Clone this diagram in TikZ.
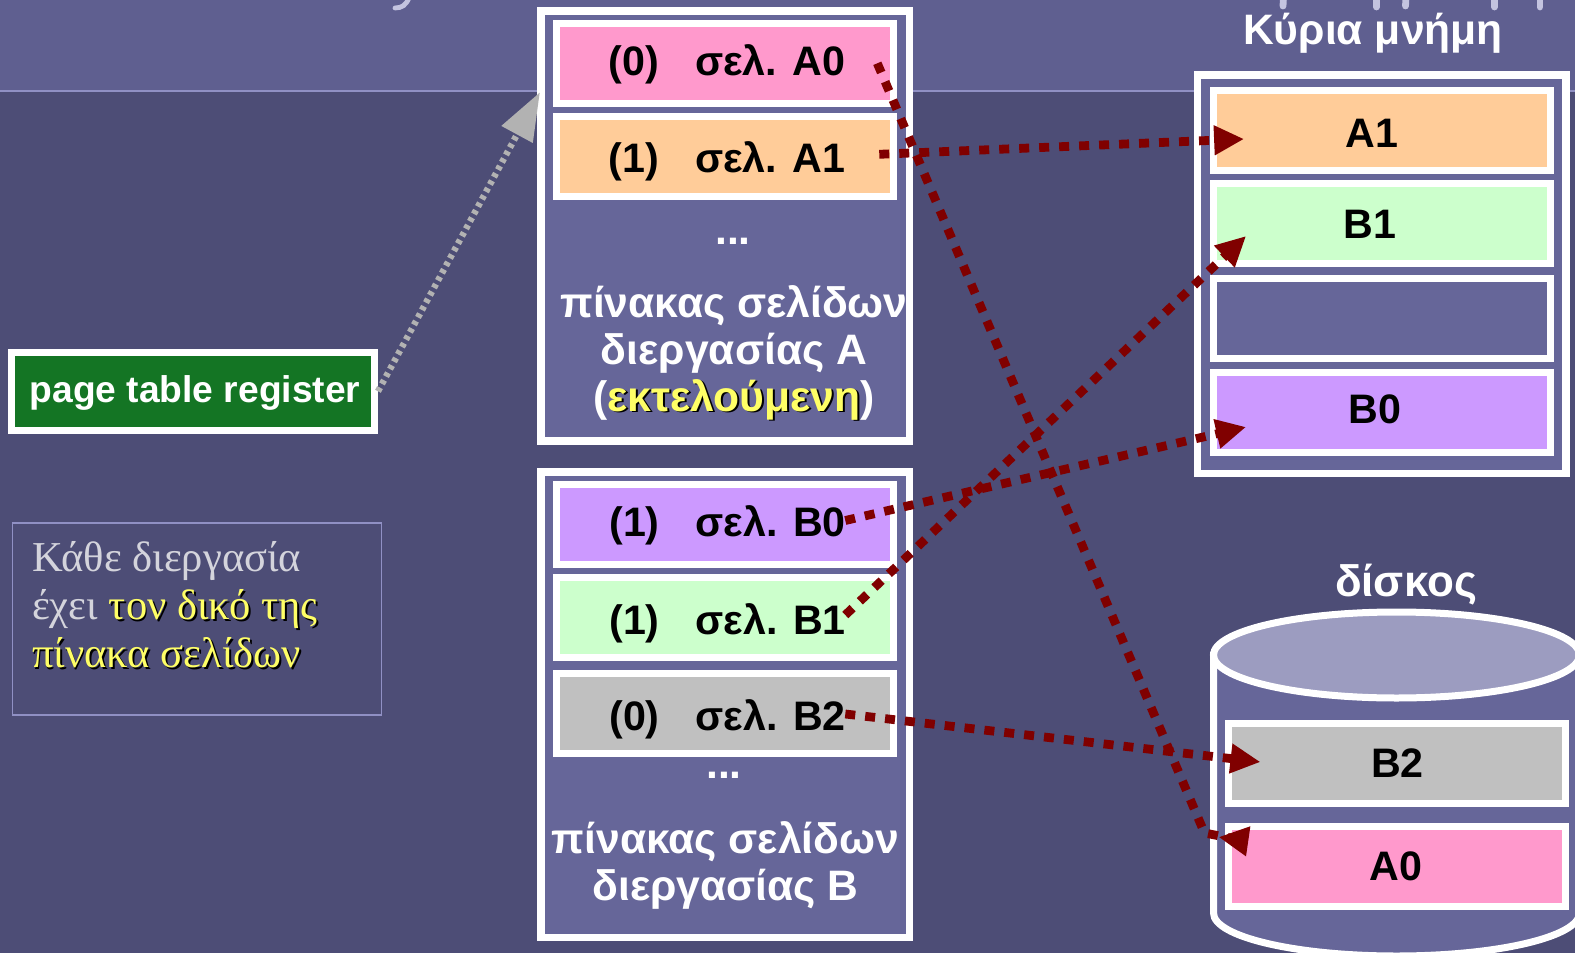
\documentclass[tikz,border=0pt]{standalone}
\usepackage{fontspec}
\setmainfont{Liberation Sans}
\newfontfamily\notefont{Liberation Serif}
\usetikzlibrary{positioning, arrows.meta}
\definecolor{slidedark}{HTML}{4D4D76}
\definecolor{slidetop}{HTML}{5F5F90}
\definecolor{slideline}{HTML}{9090C4}
\definecolor{panelfill}{HTML}{666699}
\definecolor{disktop}{HTML}{9C9CC0}
\definecolor{pagepink}{HTML}{FF99CC}
\definecolor{pageorange}{HTML}{FFCC99}
\definecolor{pagegreen}{HTML}{CCFFCC}
\definecolor{pagepurple}{HTML}{CC99FF}
\definecolor{pagegray}{HTML}{C0C0C0}
\definecolor{regreen}{HTML}{147524}
\definecolor{linkred}{HTML}{800000}
\definecolor{linkgray}{HTML}{B2B2B2}
\definecolor{hiyellow}{HTML}{FFFF66}
\definecolor{notegray}{HTML}{D4D4DC}
\definecolor{titlebit}{HTML}{C4C4E0}
\newcommand{\hilite}[1]{\rlap{\kern0.9pt\raisebox{-0.9pt}{\color{black}#1}}\textcolor{hiyellow}{#1}}
\tikzset{
    x=0.5pt, y=-0.5pt, % one unit is one pixel of the slide
    panel/.style={draw=white, line width=3.75pt, fill=panelfill, minimum width=184.25pt}, % the big frames
    slot/.style={draw=white, line width=3.5pt, minimum width=168.5pt, minimum height=40pt}, % one page entry
    pagetext/.style={text=black, font=\bfseries\fontsize{20.6}{24}\selectfont}, % text of a page entry
    caption/.style={text=white, align=center, font=\bfseries\fontsize{21.3}{23.5}\selectfont}, % white labels
    link/.style={->, draw=linkred, line width=4.4pt, dash pattern=on 5pt off 5pt}, % dark red page links
    cutoff/.style={draw=titlebit, line width=3.4pt, line cap=round}, % what is left of the slide title
    >={Triangle[length=15pt, width=14pt]}, % solid arrow heads
}

\begin{document}
\begin{tikzpicture}
    \useasboundingbox (0,0) rectangle (1575,953);
    \fill[slidedark] (0,0) rectangle (1575,953);
    \fill[slidetop] (0,0) rectangle (1575,91);
    \draw[slideline, line width=0.8pt] (0,91) -- (1575,91);
    \draw[cutoff, line width=2.4pt] (395,8) .. controls (402,8) and (406,5) .. (409,-2);
    \draw[cutoff] (1283.5,-3) -- (1283,6);
    \draw[cutoff] (1376.5,-3) -- (1376.5,7);
    \draw[cutoff] (1406,-3) -- (1405.5,6);
    \draw[cutoff] (1494.5,-3) -- (1494.5,7);
    \draw[cutoff] (1540,-3) -- (1540,7);

    % page table of process A
    \node[panel, minimum height=215pt] (tablea) at (725.3,226) {};
    \node[slot, fill=pagepink] (pa0) at (725.3,63.3) {};
    \node[slot, fill=pageorange, below=3pt of pa0] (pa1) {};
    \node[pagetext] (la0) at (727,64.3) {(0)\hspace{18pt}σελ. A0};
    \node[pagetext] (la1) at (727,161.3) {(1)\hspace{18pt}σελ. A1};
    \node[caption] (dotsa) at (733,241) {...};
    \node[caption] (capa) at (734,353.5) {πίνακας σελίδων\\διεργασίας A\\(\hilite{εκτελούμενη})};

    % page table of process B
    \node[panel, minimum height=232.75pt] (tableb) at (725.3,704.5) {};
    \node[slot, fill=pagepurple] (pb0) at (725.3,524.5) {};
    \node[slot, fill=pagegreen, below=2.75pt of pb0] (pb1) {};
    \node[slot, fill=pagegray, below=4.5pt of pb1] (pb2) {};
    \node[pagetext] (lb0) at (727.5,525) {(1)\hspace{18pt}σελ. B0};
    \node[pagetext] (lb1) at (727.5,623) {(1)\hspace{18pt}σελ. B1};
    \node[pagetext] (lb2) at (727.5,719) {(0)\hspace{18pt}σελ. B2};
    \node[caption] (dotsb) at (724,775) {...};
    \node[caption] (capb) at (725.5,865.5) {πίνακας σελίδων\\διεργασίας B};

    % main memory
    \node[caption] (memtitle) at (1373,33) {Κύρια μνήμη};
    \node[panel, minimum height=199.25pt] (mem) at (1381.5,274) {};
    \node[slot, fill=pageorange] (ma1) at (1381.5,130.6) {};
    \node[slot, fill=pagegreen] (mb1) at (1381.5,223) {};
    \node[slot, fill=panelfill] (mfree) at (1381.5,318.5) {};
    \node[slot, fill=pagepurple] (mb0) at (1381.5,412) {};
    \node[pagetext] (lma1) at (1372,133.6) {A1};
    \node[pagetext] (lmb1) at (1370,224) {B1};
    \node[pagetext] (lmb0) at (1375,409) {B0};

    % disk
    \node[caption, font=\bfseries\fontsize{22}{26}\selectfont] (disktitle) at (1406,585) {δίσκος};
    \draw[draw=white, line width=3.5pt, fill=panelfill] (1213.5,655) -- (1213.5,913)
        arc[start angle=180, end angle=360, x radius=91.5pt, y radius=21.5pt] -- (1579.5,655) -- cycle;
    \draw[draw=white, line width=3.5pt, fill=disktop] (1396.5,655) ellipse [x radius=91.5pt, y radius=21.5pt];
    \node[slot, fill=pagegray] (db2) at (1396.5,763.5) {};
    \node[slot, fill=pagepink] (da0) at (1396.5,866.5) {};
    \node[pagetext] (ldb2) at (1397.5,763.5) {B2};
    \node[pagetext] (lda0) at (1396,866.5) {A0};

    % register
    \node[draw=white, line width=3.5pt, fill=regreen, minimum width=181.5pt, minimum height=39.3pt, text=white,
        text height=17.5pt, text depth=5.9pt, font=\bfseries\fontsize{18.6}{22}\selectfont] (reg) at (193,391.3) {\hspace*{2pt}page table register};

    % note
    \node[draw=slideline, line width=0.8pt, minimum width=184.5pt, minimum height=96pt] (notebox) at (197,619) {};
    \node[below right=7.5pt and 8pt of notebox.north west, anchor=north west, inner sep=2pt, align=left, text=notegray,
        font=\notefont\fontsize{21.3}{24}\selectfont] (notetext) {Κάθε διεργασία\\έχει \hilite{τον δικό της}\\\hilite{πίνακα σελίδων}};

    % links
    \coordinate (bend) at (1246,841);
    \draw[->, draw=linkgray, line width=3.2pt, dash pattern=on 2.1pt off 2.1pt,
        >={Triangle[length=24pt, width=17pt]}] (reg.east) -- ([xshift=1.3pt, yshift=-42.5pt]tablea.north west);
    \draw[link] ([xshift=-10pt]pa0.east) -- ([xshift=-10pt, yshift=-5pt]da0.north west) -- (bend) -- ([xshift=-3pt, yshift=-7pt]da0.north west);
    \draw[link] ([xshift=-9pt, yshift=1pt]pa1.east) -- ([xshift=17.3pt, yshift=-4.2pt]ma1.west);
    \draw[link] ([xshift=-26pt, yshift=2pt]pb0.east) -- ([xshift=18.3pt, yshift=-7.5pt]mb0.west);
    \draw[link] ([xshift=-26pt, yshift=1pt]pb1.east) -- ([xshift=18.3pt, yshift=-6.5pt]mb1.west);
    \draw[link] ([xshift=-26pt, yshift=-0.5pt]pb2.east) -- ([xshift=18pt, yshift=0.75pt]db2.west);
\end{tikzpicture}
\end{document}
